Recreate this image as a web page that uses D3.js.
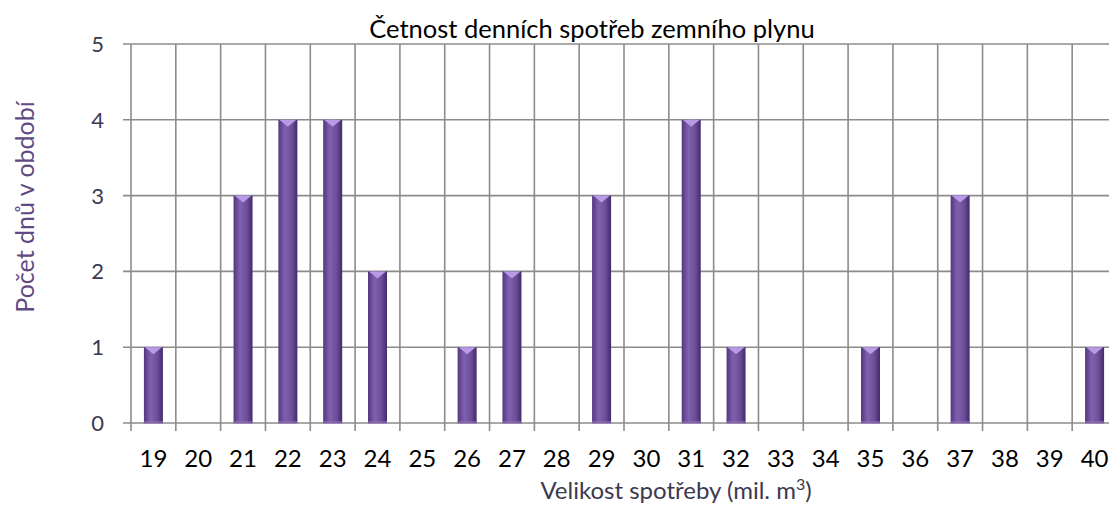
<!DOCTYPE html>
<html><head><meta charset="utf-8">
<script src="https://cdn.jsdelivr.net/npm/d3@7"></script>
<style>body{margin:0;background:#fff;} text{font-family:Lato,"Open Sans",sans-serif;}</style>
</head><body>
<svg id="c" width="1109" height="511"></svg>
<script>
const categories = ["19","20","21","22","23","24","25","26","27","28","29","30","31","32","33","34","35","36","37","38","39","40"];
const values = [1,0,3,4,4,2,0,1,2,0,3,0,4,1,0,0,1,0,3,0,0,1];
const yTicks = [0,1,2,3,4,5];
const title = "Četnost denních spotřeb zemního plynu";
const yTitle = "Počet dnů v období";

const svg = d3.select("#c");
const L = 131, R = 1117, T = 44, B = 423;
const x = d3.scaleBand().domain(categories).range([L, R]).padding(0);
const y = d3.scaleLinear().domain([0,5]).range([B, T]);

const defs = svg.append("defs");
const g = defs.append("linearGradient").attr("id","bar").attr("x1","0").attr("x2","1").attr("y1","0").attr("y2","0");
g.append("stop").attr("offset","0").attr("stop-color","#523780");
g.append("stop").attr("offset","0.35").attr("stop-color","#8161ae");
g.append("stop").attr("offset","0.7").attr("stop-color","#6d4e9b");
g.append("stop").attr("offset","1").attr("stop-color","#432b68");

const grid = "#8c8c8c";
svg.append("g").selectAll("line").data(yTicks).join("line")
  .attr("x1", L - 8).attr("x2", R).attr("y1", d => y(d)).attr("y2", d => y(d))
  .attr("stroke", grid).attr("stroke-width", 1.6);
const bounds = categories.map(c => x(c)).concat([R]);
svg.append("g").selectAll("line").data(bounds).join("line")
  .attr("x1", d => d).attr("x2", d => d).attr("y1", T).attr("y2", B + 8)
  .attr("stroke", grid).attr("stroke-width", 1.6);

const bw = 19;
const bars = svg.append("g");
categories.forEach((c, i) => {
  const v = values[i];
  if (!v) return;
  const cx = x(c) + x.bandwidth()/2;
  bars.append("rect").attr("x", cx - bw/2).attr("y", y(v)).attr("width", bw).attr("height", y(0) - y(v))
    .attr("fill", "url(#bar)");
  bars.append("path")
    .attr("d", `M${cx - bw/2 + 1},${y(v)} L${cx + bw/2 - 1},${y(v)} L${cx},${y(v) + 7} Z`)
    .attr("fill", "#b99ae6");
  bars.append("rect").attr("x", cx - bw/2).attr("y", y(0) - 2).attr("width", bw).attr("height", 3)
    .attr("fill", "#8d72b5").attr("opacity", 0.6);
});

svg.append("g").selectAll("text").data(yTicks).join("text")
  .attr("x", 104).attr("y", d => y(d) + 8)
  .attr("text-anchor", "end")
  .attr("font-size", 22).attr("fill", "#3b3950").text(d => d);

svg.append("g").selectAll("text").data(categories).join("text")
  .attr("x", d => x(d) + x.bandwidth()/2).attr("y", 467).attr("text-anchor", "middle")
  .attr("font-size", 24).attr("fill", "#000").text(d => d);

svg.append("text").attr("x", 592).attr("y", 38).attr("text-anchor", "middle")
  .attr("font-size", 25.5).attr("fill", "#000").text(title);

const xt = svg.append("text").attr("x", 676).attr("y", 499).attr("text-anchor", "middle")
  .attr("font-size", 24).attr("fill", "#3b3950");
xt.append("tspan").text("Velikost spotřeby (mil. m");
xt.append("tspan").attr("dy", -9).attr("font-size", 16).text("3");
xt.append("tspan").attr("dy", 9).text(")");

svg.append("text").attr("transform", "translate(34,207) rotate(-90)").attr("text-anchor", "middle")
  .attr("font-size", 25).attr("fill", "#5f4a84").text(yTitle);
</script>
</body></html>
